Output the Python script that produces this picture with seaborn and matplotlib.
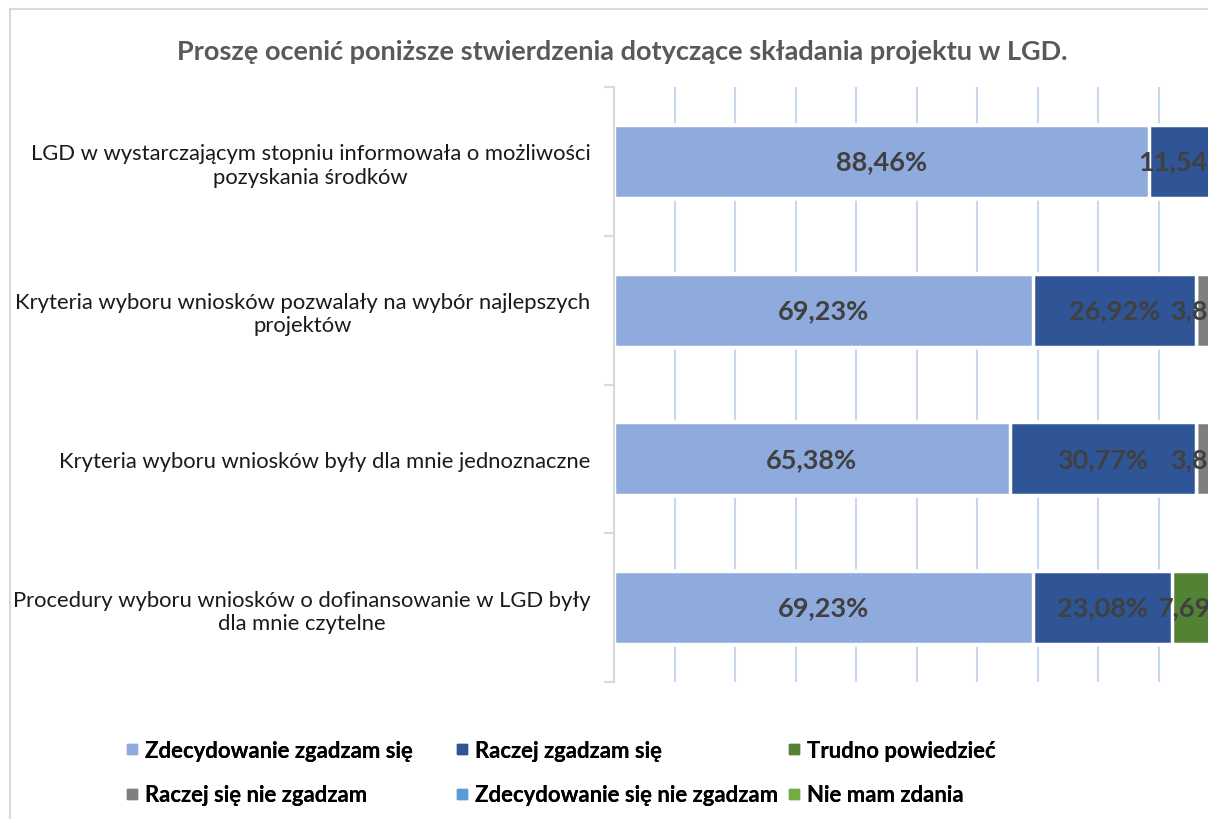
import numpy as np
import pandas as pd
import matplotlib
matplotlib.use("Agg")
import matplotlib.pyplot as plt
import seaborn as sns
from matplotlib.lines import Line2D
from matplotlib.patches import Rectangle

title = "Proszę ocenić poniższe stwierdzenia dotyczące składania projektu w LGD."
categories = [
    "LGD w wystarczającym stopniu informowała o możliwości\npozyskania środków",
    "Kryteria wyboru wniosków pozwalały na wybór najlepszych\nprojektów",
    "Kryteria wyboru wniosków były dla mnie jednoznaczne",
    "Procedury wyboru wniosków o dofinansowanie w LGD były\ndla mnie czytelne",
]
series_names = [
    "Zdecydowanie zgadzam się",
    "Raczej zgadzam się",
    "Trudno powiedzieć",
    "Raczej się nie zgadzam",
    "Zdecydowanie się nie zgadzam",
    "Nie mam zdania",
]
zdecydowanie_zgadzam = [88.46, 69.23, 65.38, 69.23]
raczej_zgadzam = [11.54, 26.92, 30.77, 23.08]
trudno_powiedziec = [0.0, 0.0, 0.0, 7.69]
raczej_nie_zgadzam = [0.0, 3.85, 3.85, 0.0]
zdecydowanie_nie_zgadzam = [0.0, 0.0, 0.0, 0.0]
nie_mam_zdania = [0.0, 0.0, 0.0, 0.0]
colors = ["#8FAADC", "#2F5597", "#548235", "#7F7F7F", "#5B9BD5", "#70AD47"]

sns.set_theme(style="white")
plt.rcParams["font.family"] = ["Lato", "DejaVu Sans"]

W, H = 1208, 820
fig = plt.figure(figsize=(W / 100, H / 100), dpi=100)
fig.patch.set_facecolor("white")
ax = fig.add_axes([614 / W, 1 - 683 / H, 605 / W, 595 / H])

values = np.array([zdecydowanie_zgadzam, raczej_zgadzam, trudno_powiedziec,
                   raczej_nie_zgadzam, zdecydowanie_nie_zgadzam, nie_mam_zdania])
cum = values.cumsum(axis=0)
rows = []
for i, name in enumerate(series_names):
    for j, cat in enumerate(categories):
        rows.append(dict(category=cat, series=name, cum=cum[i, j]))
df = pd.DataFrame(rows)

sns.barplot(data=df, x="cum", y="category", hue="series",
            hue_order=series_names[::-1], order=categories,
            palette=dict(zip(series_names, colors)), saturation=1,
            dodge=False, orient="h", width=0.49, edgecolor="white",
            linewidth=2.5, legend=False, ax=ax, errorbar=None)

ax.set_xlim(0, 100)
ax.set_ylim(3.5, -0.5)
ax.set_axisbelow(True)
ax.set_xticks(np.arange(0, 101, 10))
ax.xaxis.grid(True, color="#C9D6EE", linewidth=1.5)
ax.yaxis.grid(False)
ax.tick_params(axis="x", length=0, labelbottom=False)
ax.set_xlabel("")
ax.set_ylabel("")
for s in ["top", "right", "bottom"]:
    ax.spines[s].set_visible(False)
ax.spines["left"].set_color("#D9D9D9")
ax.spines["left"].set_linewidth(1.5)
ax.set_yticks(np.arange(-0.5, 4, 1), minor=True)
ax.tick_params(axis="y", which="minor", length=7, width=1.5, color="#D9D9D9", left=True)
ax.tick_params(axis="y", which="major", length=0, pad=17, labelsize=15.8, labelcolor="#1A1A1A")
for lab in ax.get_yticklabels():
    lab.set_multialignment("center")

for i in range(values.shape[0]):
    for j in range(values.shape[1]):
        v = values[i, j]
        if v > 0:
            ax.text(cum[i, j] - v / 2, j, f"{v:.2f}%".replace(".", ","),
                    ha="center", va="center", fontsize=19.5, fontweight="bold",
                    color="#404040", clip_on=False)

fig.text(622 / W, 1 - 52 / H, title, ha="center", va="center",
         fontsize=19.5, fontweight="bold", color="#595959")

fig.add_artist(Rectangle((10 / W, -0.1), 1.5, 1 - 10 / H + 0.1,
                         transform=fig.transFigure, fill=False,
                         edgecolor="#D9D9D9", linewidth=1.5))

col_x = [126, 456, 788]
for c in range(3):
    idx = [c, c + 3]
    handles = [Line2D([], [], marker="s", linestyle="none", markersize=7,
                      markerfacecolor=colors[k], markeredgecolor=colors[k]) for k in idx]
    leg = fig.legend(handles, [series_names[k] for k in idx], loc="center left",
                     bbox_to_anchor=(col_x[c] / W, 1 - 773.5 / H), frameon=False,
                     borderpad=0, borderaxespad=0, handlelength=0.55,
                     handletextpad=0.32, labelspacing=1.08,
                     prop=dict(size=15.9, weight="bold"))
    for t in leg.get_texts():
        t.set_color("#000000")
    fig.add_artist(leg)

fig.savefig("out.png", dpi=100)
